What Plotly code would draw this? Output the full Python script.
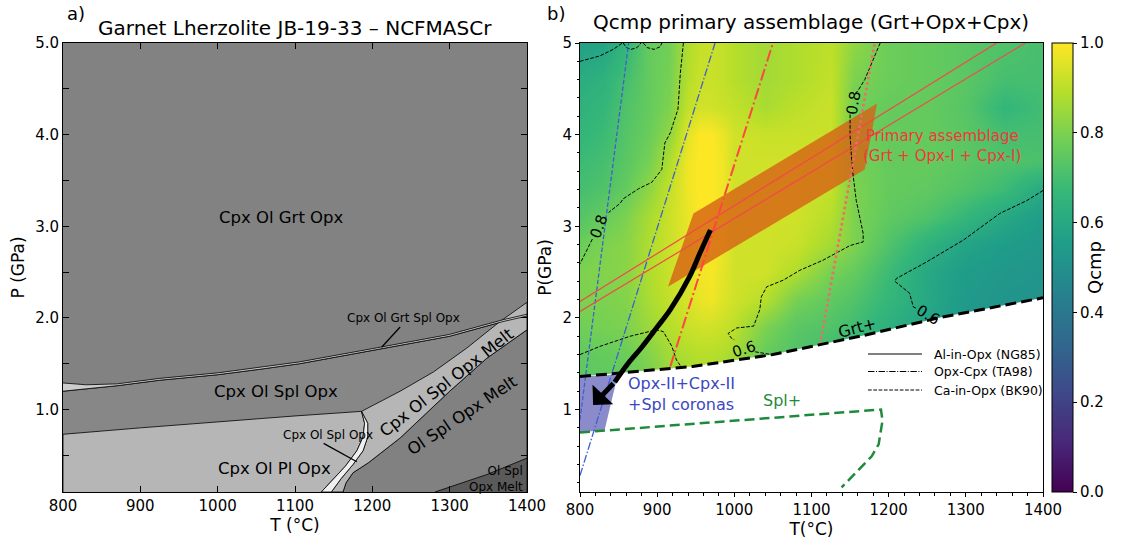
import plotly.graph_objects as go

W, H = 1123, 541
FONT = "DejaVu Sans"

# ---------------- left panel: phase-field boundaries (T in °C, P in GPa)
T_MIN, T_MAX, P_MIN, P_MAX = 800, 1400, 0.1, 5.0
band_up_T = [800, 830, 870, 925, 1000, 1055, 1106, 1210, 1300, 1369, 1400]
band_up_P = [1.29, 1.27, 1.28, 1.34, 1.40, 1.46, 1.52, 1.68, 1.82, 1.98, 2.04]
band_lo_T = [800, 870, 925, 1000, 1055, 1106, 1210, 1300, 1369, 1400]
band_lo_P = [1.20, 1.26, 1.32, 1.38, 1.44, 1.50, 1.66, 1.80, 1.96, 2.02]
pl_top_T = [800, 900, 990, 1100, 1186]
pl_top_P = [0.73, 0.80, 0.86, 0.93, 0.98]
pl_edge_T = [1186, 1190, 1188, 1180, 1165, 1148, 1134]
pl_edge_P = [0.98, 0.85, 0.70, 0.55, 0.38, 0.22, 0.10]
sliver_T = [1186, 1194, 1194, 1188, 1175, 1160, 1147]
sliver_P = [0.98, 0.85, 0.70, 0.55, 0.40, 0.25, 0.10]
melt_up_T = [1186, 1236, 1279, 1322, 1365, 1400]
melt_up_P = [0.98, 1.20, 1.41, 1.67, 1.96, 2.17]
melt_lo_T = [1162, 1166, 1175, 1195, 1236, 1300, 1348, 1400]
melt_lo_P = [0.10, 0.20, 0.31, 0.42, 0.69, 1.20, 1.56, 1.87]
dark_T = [1281, 1348, 1400]
dark_P = [0.10, 0.29, 0.47]

field_labels = ["Cpx Ol Grt Opx", "Cpx Ol Spl Opx", "Cpx Ol Pl Opx",
                "Cpx Ol Spl Opx Melt", "Ol Spl Opx Melt"]
field_T = [1083, 1075, 1074, 1296, 1316]
field_P = [3.10, 1.20, 0.36, 1.30, 0.94]
field_angle = [0, 0, 0, -38, -34]
small_labels = ["Cpx Ol Grt Spl Opx", "Cpx Ol Spl Opx"]
small_T = [1240, 1143]
small_P = [2.00, 0.72]
ptr1_T, ptr1_P = [1236, 1212], [1.90, 1.68]
ptr2_T, ptr2_P = [1137, 1180], [0.63, 0.43]

# ---------------- right panel: Qcmp field
T_grid = [800, 830, 860, 890, 915, 940, 955, 970, 985, 1000, 1040, 1080, 1125, 1155, 1200, 1250, 1300, 1350, 1400]
P_grid = [1.3, 1.6, 1.9, 2.2, 2.5, 2.8, 3.1, 3.4, 3.7, 4.0, 4.3, 4.6, 5.0]
Q = [
    [0.74, 0.75, 0.76, 0.79, 0.84, 0.86, 0.87, 0.87, 0.86, 0.84, 0.74, 0.70, 0.66, 0.63, 0.58, 0.55, 0.51, 0.50, 0.50],
    [0.75, 0.76, 0.77, 0.81, 0.86, 0.88, 0.89, 0.89, 0.88, 0.86, 0.76, 0.72, 0.68, 0.65, 0.60, 0.56, 0.52, 0.50, 0.50],
    [0.78, 0.79, 0.80, 0.85, 0.89, 0.92, 0.93, 0.93, 0.92, 0.90, 0.80, 0.74, 0.72, 0.69, 0.63, 0.58, 0.53, 0.51, 0.50],
    [0.80, 0.80, 0.81, 0.87, 0.91, 0.94, 0.97, 0.98, 0.95, 0.93, 0.89, 0.79, 0.75, 0.72, 0.66, 0.60, 0.54, 0.52, 0.51],
    [0.80, 0.81, 0.82, 0.88, 0.92, 0.95, 0.98, 0.99, 0.96, 0.93, 0.93, 0.88, 0.79, 0.76, 0.68, 0.60, 0.55, 0.53, 0.52],
    [0.77, 0.80, 0.82, 0.88, 0.92, 0.96, 0.99, 1.00, 0.97, 0.93, 0.93, 0.92, 0.86, 0.80, 0.72, 0.64, 0.58, 0.55, 0.53],
    [0.73, 0.76, 0.80, 0.87, 0.92, 0.97, 1.00, 1.00, 0.98, 0.93, 0.93, 0.93, 0.89, 0.80, 0.75, 0.72, 0.66, 0.60, 0.55],
    [0.70, 0.72, 0.76, 0.83, 0.91, 0.98, 1.00, 1.00, 0.98, 0.93, 0.93, 0.93, 0.91, 0.80, 0.76, 0.75, 0.72, 0.68, 0.60],
    [0.68, 0.70, 0.74, 0.79, 0.88, 0.98, 1.00, 1.00, 0.98, 0.93, 0.93, 0.93, 0.92, 0.79, 0.76, 0.76, 0.74, 0.72, 0.71],
    [0.66, 0.68, 0.73, 0.77, 0.83, 0.96, 1.00, 1.00, 0.97, 0.93, 0.92, 0.92, 0.92, 0.78, 0.76, 0.76, 0.74, 0.70, 0.70],
    [0.64, 0.66, 0.72, 0.76, 0.80, 0.91, 0.93, 0.93, 0.92, 0.91, 0.87, 0.90, 0.92, 0.78, 0.76, 0.76, 0.73, 0.66, 0.69],
    [0.62, 0.64, 0.70, 0.76, 0.79, 0.89, 0.92, 0.92, 0.91, 0.89, 0.86, 0.88, 0.91, 0.80, 0.77, 0.76, 0.74, 0.70, 0.70],
    [0.57, 0.58, 0.66, 0.76, 0.78, 0.88, 0.91, 0.92, 0.91, 0.89, 0.86, 0.88, 0.90, 0.83, 0.77, 0.76, 0.74, 0.72, 0.70],
]

# contour paths (dashed black)
c_corner_T = [800, 826, 843, 852, 855, None, 856, 860, 866, 874, 879, None, 882, 887, 896, 904, 906]
c_corner_P = [4.80, 4.86, 4.93, 4.98, 5.0, None, 5.0, 4.95, 4.93, 4.95, 5.0, None, 5.0, 4.95, 4.93, 4.96, 5.0]
c_left_T = [934, 930, 927, 917, 910, 906, 893, 876, 856, 852, 837, None, 816, 813, 800]
c_left_P = [5.0, 4.67, 4.28, 4.02, 3.91, 3.62, 3.48, 3.41, 3.30, 3.25, 3.15, None, 2.86, 2.81, 2.59]
c_right_T = [1189, 1178, 1169, 1161, 1157, None, 1150, 1150, 1152, 1154, 1158, 1167, 1167, 1150, 1115, 1085,
             1063, 1042, 1035, 1033, 1025, 1003, 992, 996, 1000, None, 1027, 1040, 1048]
c_right_P = [5.0, 4.78, 4.60, 4.49, 4.45, None, 4.22, 3.99, 3.73, 3.55, 3.28, 2.92, 2.83, 2.79, 2.63, 2.52,
             2.41, 2.34, 2.23, 2.09, 1.91, 1.89, 1.83, 1.78, 1.76, None, 1.63, 1.61, 1.60]
c_low_T = [800, 826, 865, 899, 908, 919, 925, 930]
c_low_P = [1.60, 1.69, 1.80, 1.87, 1.85, 1.69, 1.54, 1.48]
c_teal_T = [1400, 1379, 1344, 1297, 1249, 1210, 1208, 1227, 1232, 1237]
c_teal_P = [3.39, 3.28, 3.14, 2.85, 2.61, 2.43, 2.40, 2.27, 2.12, 2.10]
clabel_text = ["0.8", "0.8", "0.6", "0.6"]
clabel_T = [825, 1154, 1013, 1251]
clabel_P = [3.00, 4.35, 1.66, 2.03]
clabel_angle = [-70, -80, -18, 32]

grt_T = [800, 946, 1050, 1163, 1270, 1400]
grt_P = [1.36, 1.47, 1.60, 1.80, 2.01, 2.22]
spl_T = [800, 1190, 1192, 1187, 1178, 1163, 1139]
spl_P = [0.75, 1.00, 0.88, 0.62, 0.49, 0.36, 0.15]
corona_T = [800, 849, 832, 800]
corona_P = [1.36, 1.38, 0.78, 0.75]
primary_T = [914, 947, 1185, 1169]
primary_P = [2.34, 3.14, 4.34, 3.62]

alopx1_T, alopx1_P = [800, 1340], [2.18, 5.0]
alopx2_T, alopx2_P = [800, 1377], [2.07, 5.0]
redopxcpx_T, redopxcpx_P = [917, 1050], [1.47, 5.0]
redca_T, redca_P = [1111, 1182], [1.71, 5.0]
blueca_T, blueca_P = [800, 863], [0.89, 5.0]
blueopxcpx_T, blueopxcpx_P = [800, 975], [0.28, 5.0]

path_T = [969, 955, 942, 917, 900, 880, 862, 845]
path_P = [2.96, 2.70, 2.45, 2.09, 1.90, 1.68, 1.50, 1.30]
arrow_tip_T, arrow_tip_P = 817, 1.05

legend_names = ["Al-in-Opx (NG85)", "Opx-Cpx (TA98)", "Ca-in-Opx (BK90)"]
legend_dash = ["solid", "6.4px,1.6px,1px,1.6px", "3.7px,1.6px"]


def px_x(px):
    return px / W


def px_y(py):
    return 1 - py / H


XD1 = [px_x(63), px_x(527)]
XD2 = [px_x(580), px_x(1043)]
YD = [px_y(492), px_y(43)]

fig = go.Figure()


def poly(T, P, color, axes=("x", "y"), lw=0.8, lc="black"):
    fig.add_trace(go.Scatter(x=T, y=P, xaxis=axes[0], yaxis=axes[1], mode="lines", fill="toself",
                             fillcolor=color, line=dict(color=lc, width=lw), hoverinfo="skip",
                             showlegend=False))


def line(T, P, color, width, dash="solid", axes=("x2", "y2"), shape="linear"):
    fig.add_trace(go.Scatter(x=T, y=P, xaxis=axes[0], yaxis=axes[1], mode="lines",
                             line=dict(color=color, width=width, dash=dash, shape=shape),
                             hoverinfo="skip", showlegend=False, connectgaps=False))


# ---- left panel fields
poly(band_lo_T + [T_MAX, T_MIN], band_lo_P + [P_MIN, P_MIN], "#878787")
poly(melt_lo_T + [T_MAX], melt_lo_P + [P_MIN], "#818181")
poly(dark_T + [T_MAX], dark_P + [P_MIN], "#5a5a5a")
poly(melt_up_T + melt_lo_T[::-1] + sliver_T[::-1], melt_up_P + melt_lo_P[::-1] + sliver_P[::-1], "#b6b6b6")
poly([T_MIN] + pl_top_T + pl_edge_T[1:], [P_MIN] + pl_top_P + pl_edge_P[1:], "#b6b6b6")
poly(pl_edge_T + sliver_T[::-1], pl_edge_P + sliver_P[::-1], "#f0f0f0")
poly(band_up_T + band_lo_T[::-1], band_up_P + band_lo_P[::-1], "#cccccc")
line(ptr1_T, ptr1_P, "black", 1.3, axes=("x", "y"))
line(ptr2_T, ptr2_P, "black", 1.3, axes=("x", "y"))

# ---- right panel
fig.add_trace(go.Heatmap(x=T_grid, y=P_grid, z=Q, xaxis="x2", yaxis="y2", colorscale="Viridis",
                         zmin=0, zmax=1, zsmooth="best", hoverinfo="skip",
                         colorbar=dict(x=px_x(1052), xanchor="left", y=px_y(43), yanchor="top",
                                       len=(492 - 43) / H, lenmode="fraction", thickness=21,
                                       thicknessmode="pixels", xpad=0, ypad=0,
                                       outlinewidth=1, outlinecolor="black",
                                       tickvals=[0, 0.2, 0.4, 0.6, 0.8, 1.0], tickformat=".1f",
                                       ticks="outside", ticklen=4, tickcolor="black",
                                       tickfont=dict(family=FONT, size=15, color="black"),
                                       title=dict(text="Qcmp", side="right",
                                                  font=dict(family=FONT, size=18, color="black")))))
# white mask below Grt+
poly(grt_T + [T_MAX, T_MIN], grt_P + [P_MIN, P_MIN], "white", axes=("x2", "y2"), lw=0)
poly(primary_T, primary_P, "rgba(214,100,22,0.82)", axes=("x2", "y2"), lw=0)
poly(corona_T, corona_P, "rgba(100,100,186,0.75)", axes=("x2", "y2"), lw=0)

cdash = "3.7px,1.6px"
for cT, cP in [(c_corner_T, c_corner_P), (c_left_T, c_left_P), (c_right_T, c_right_P),
               (c_low_T, c_low_P), (c_teal_T, c_teal_P)]:
    line(cT, cP, "black", 1, cdash)

line(blueca_T, blueca_P, "#3f5fd0", 1.3, "4.5px,2px")
line(blueopxcpx_T, blueopxcpx_P, "#3f5fd0", 1.3, "8px,2px,1.5px,2px")
line(alopx1_T, alopx1_P, "#f04a4a", 1.2)
line(alopx2_T, alopx2_P, "#f04a4a", 1.2)
line(redopxcpx_T, redopxcpx_P, "#ff4545", 2, "12px,3px,2px,3px")
line(redca_T, redca_P, "#f06a6a", 2.6, "2.5px,3px")
line(grt_T, grt_P, "black", 3, "11px,5px")
line(spl_T, spl_P, "#1f8a3c", 2.5, "10px,5px")
line(path_T, path_P, "black", 5, shape="spline")

annotations = []


def text(t, x, y, size, color="black", angle=0, xref="x", yref="y", xanchor="center", align="center"):
    annotations.append(dict(text=t, x=x, y=y, xref=xref, yref=yref, showarrow=False,
                            textangle=angle, xanchor=xanchor, yanchor="middle", align=align,
                            font=dict(family=FONT, size=size, color=color)))


for t, x, y, a in zip(field_labels, field_T, field_P, field_angle):
    text(t, x, y, 16.5, angle=a)
for t, x, y in zip(small_labels, small_T, small_P):
    text(t, x, y, 12)
text("Ol Spl<br>Opx Melt", 1398, 0.24, 12, xanchor="right", align="right")

for t, x, y, a in zip(clabel_text, clabel_T, clabel_P, clabel_angle):
    text(t, x, y, 15, angle=a, xref="x2", yref="y2")
text("Grt+", 1160, 1.89, 16, angle=-15, xref="x2", yref="y2")
text("Spl+", 1062, 1.10, 16, color="#1f8a3c", xref="x2", yref="y2")
text("Opx-II+Cpx-II<br>+Spl coronas", 860, 1.165, 16, color="#3a48c0", xref="x2", yref="y2",
     xanchor="left", align="left")
text("Primary assemblage<br>(Grt + Opx-I + Cpx-I)", 1269, 3.88, 15, color="#ee3a3a",
     xref="x2", yref="y2")

# legend (lines + names)
shapes = [dict(type="rect", xref="x", yref="y", x0=T_MIN, x1=T_MAX, y0=P_MIN, y1=P_MAX,
               fillcolor="#828282", line=dict(width=0), layer="below")]
for i, (name, d) in enumerate(zip(legend_names, legend_dash)):
    yy = px_y([354, 371.5, 390][i])
    shapes.append(dict(type="line", xref="paper", yref="paper", x0=px_x(868), x1=px_x(922), y0=yy, y1=yy,
                       line=dict(color="black", width=1, dash=d)))
    text(name, px_x(932), yy, 12.5, xref="paper", yref="paper", xanchor="left", align="left")

# arrow head
annotations.append(dict(x=arrow_tip_T, y=arrow_tip_P, ax=path_T[-1], ay=path_P[-1], xref="x2", yref="y2",
                        axref="x2", ayref="y2", showarrow=True, arrowhead=1, arrowsize=0.95,
                        arrowwidth=5, arrowcolor="black", text=""))

# titles and panel letters
text("Garnet Lherzolite JB-19-33 – NCFMASCr", px_x(295), px_y(28), 20, xref="paper", yref="paper")
text("Qcmp primary assemblage (Grt+Opx+Cpx)", px_x(811), px_y(22), 20, xref="paper", yref="paper")
text("a)", px_x(76), px_y(14), 18, xref="paper", yref="paper")
text("b)", px_x(556), px_y(14), 18, xref="paper", yref="paper")

tickfont = dict(family=FONT, size=15, color="black")
titlefont = dict(family=FONT, size=17, color="black")

common = dict(showline=True, linecolor="black", linewidth=1, showgrid=False, zeroline=False,
              tickfont=tickfont, tickcolor="black", automargin=False)

fig.update_layout(
    width=W, height=H, margin=dict(l=0, r=0, t=0, b=0),
    paper_bgcolor="white", plot_bgcolor="white",
    font=dict(family=FONT, color="black"),
    showlegend=False,
    annotations=annotations, shapes=shapes,
    xaxis=dict(domain=XD1, anchor="y", range=[T_MIN, T_MAX], dtick=100, tick0=800,
               ticks="inside", ticklen=6, mirror="allticks",
               title=dict(text="T (°C)", font=titlefont, standoff=4), **common),
    yaxis=dict(domain=YD, anchor="x", range=[P_MIN, P_MAX], dtick=1, tick0=0, tickformat=".1f",
               ticks="inside", ticklen=6, mirror="allticks",
               minor=dict(dtick=0.5, ticks="inside", ticklen=6, tickcolor="black"),
               title=dict(text="P (GPa)", font=titlefont, standoff=6), **common),
    xaxis2=dict(domain=XD2, anchor="y2", range=[T_MIN, T_MAX], dtick=100, tick0=800,
                ticks="outside", ticklen=4, mirror=True,
                minor=dict(dtick=20, ticks="outside", ticklen=2.5, tickcolor="black"),
                title=dict(text="T(°C)", font=titlefont, standoff=2), **common),
    yaxis2=dict(domain=YD, anchor="x2", range=[P_MIN, P_MAX], dtick=1, tick0=0,
                ticks="outside", ticklen=4, mirror=True,
                minor=dict(dtick=0.2, ticks="outside", ticklen=2.5, tickcolor="black"),
                title=dict(text="P(GPa)", font=titlefont, standoff=6), **common),
)

fig.write_html("out.html")
